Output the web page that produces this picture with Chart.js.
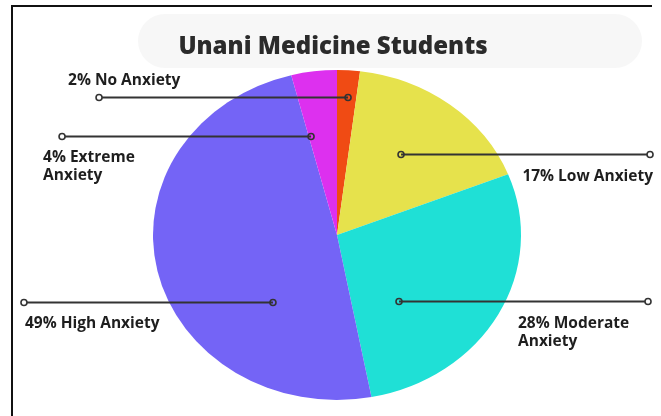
<!DOCTYPE html>
<html>
<head>
<meta charset="utf-8">
<script src="https://cdn.jsdelivr.net/npm/chart.js@4"></script>
<style>
  html, body { margin: 0; padding: 0; background: #fff; }
  canvas { display: block; }
</style>
</head>
<body>
<canvas id="pie" width="661" height="416"></canvas>
<script>
// data
const categories = ['No Anxiety', 'Low Anxiety', 'Moderate Anxiety', 'High Anxiety', 'Extreme Anxiety'];
const percents = [2, 17, 28, 49, 4];
const colors = ['#f04b14', '#e6e24c', '#1fe0d6', '#7464f6', '#dd30ef'];
const titleText = 'Unani Medicine Students';

// where each callout sits (anchor in radius units, line direction, text offset)
const callouts = [
  { ax: 0.06,  ay: -0.836, dir: -1, lines: 1, tx: -31, ty: -13, align: 'left' },
  { ax: 0.348, ay: -0.49,  dir: 1,  lines: 1, tx: 3,   ty: 26,  align: 'right' },
  { ax: 0.337, ay: 0.40,   dir: 1,  lines: 2, tx: -130, ty: 26, align: 'left' },
  { ax: -0.348, ay: 0.406, dir: -1, lines: 1, tx: 1,   ty: 25,  align: 'left' },
  { ax: -0.141, ay: -0.60, dir: -1, lines: 2, tx: -19, ty: 25,  align: 'left' }
];
const LINE_LEN = 249;
const STRETCH_X = 184 / 165; // the pie in the picture is a bit wider than tall

function labelLines(i) {
  const txt = percents[i] + '% ' + categories[i];
  if (callouts[i].lines === 2) {
    const parts = txt.split(' ');
    return [parts.slice(0, 2).join(' '), parts.slice(2).join(' ')];
  }
  return [txt];
}

const framePlugin = {
  id: 'frame',
  beforeDraw(chart) {
    const ctx = chart.ctx;
    ctx.save();
    ctx.fillStyle = '#ffffff';
    ctx.fillRect(0, 0, chart.width, chart.height);
    // soft grey band behind the title
    ctx.fillStyle = '#f7f7f7';
    ctx.beginPath();
    ctx.roundRect(138, 14, 504, 54, 27);
    ctx.fill();
    // black frame (left and top)
    ctx.strokeStyle = '#111';
    ctx.lineWidth = 2;
    ctx.beginPath();
    ctx.moveTo(12, chart.height);
    ctx.lineTo(12, 6);
    ctx.lineTo(652, 6);
    ctx.stroke();
    // title
    ctx.fillStyle = '#2b2b2b';
    ctx.font = '800 24px "Open Sans"';
    ctx.textAlign = 'center';
    ctx.textBaseline = 'alphabetic';
    ctx.fillText(titleText, 333, 54);
    ctx.restore();
  },
  beforeDatasetsDraw(chart) {
    const arc = chart.getDatasetMeta(0).data[0];
    const ctx = chart.ctx;
    ctx.save();
    ctx.translate(arc.x, arc.y);
    ctx.scale(STRETCH_X, 1);
    ctx.translate(-arc.x, -arc.y);
  },
  afterDatasetsDraw(chart) {
    chart.ctx.restore();
  },
  afterDraw(chart) {
    const ctx = chart.ctx;
    const meta = chart.getDatasetMeta(0);
    const cx = meta.data[0].x, cy = meta.data[0].y, r = meta.data[0].outerRadius;
    ctx.save();
    callouts.forEach((c, i) => {
      const x1 = cx + c.ax * r * STRETCH_X;
      const y = Math.round(cy + c.ay * r) + 0.5;
      const x2 = x1 + c.dir * LINE_LEN;
      ctx.strokeStyle = '#333';
      ctx.lineWidth = 1.8;
      ctx.beginPath();
      ctx.moveTo(x1, y);
      ctx.lineTo(x2, y);
      ctx.stroke();
      ctx.lineWidth = 1.6;
      [x1, x2].forEach(px => {
        ctx.beginPath();
        ctx.arc(px, y, 3, 0, Math.PI * 2);
        ctx.fillStyle = '#fff';
        if (px === x2) ctx.fill();
        ctx.stroke();
      });
      // text
      const left = Math.min(x1, x2), right = Math.max(x1, x2);
      ctx.fillStyle = '#1e1e1e';
      ctx.font = '700 15.5px "Open Sans"';
      ctx.textBaseline = 'alphabetic';
      ctx.textAlign = c.align;
      const tx = c.align === 'right' ? right + c.tx : (c.tx < -100 ? right + c.tx : left + c.tx);
      labelLines(i).forEach((t, k) => {
        ctx.fillText(t, tx, y + c.ty + k * 18);
      });
    });
    ctx.restore();
  }
};

new Chart(document.getElementById('pie'), {
  type: 'pie',
  data: {
    labels: categories,
    datasets: [{
      data: percents,
      backgroundColor: colors,
      borderWidth: 0
    }]
  },
  options: {
    responsive: false,
    animation: false,
    devicePixelRatio: 1,
    layout: { padding: { top: 70, bottom: 16, left: 100, right: 87 } },
    plugins: {
      legend: { display: false },
      tooltip: { enabled: false },
      title: { display: false }
    }
  },
  plugins: [framePlugin]
});
</script>
</body>
</html>
